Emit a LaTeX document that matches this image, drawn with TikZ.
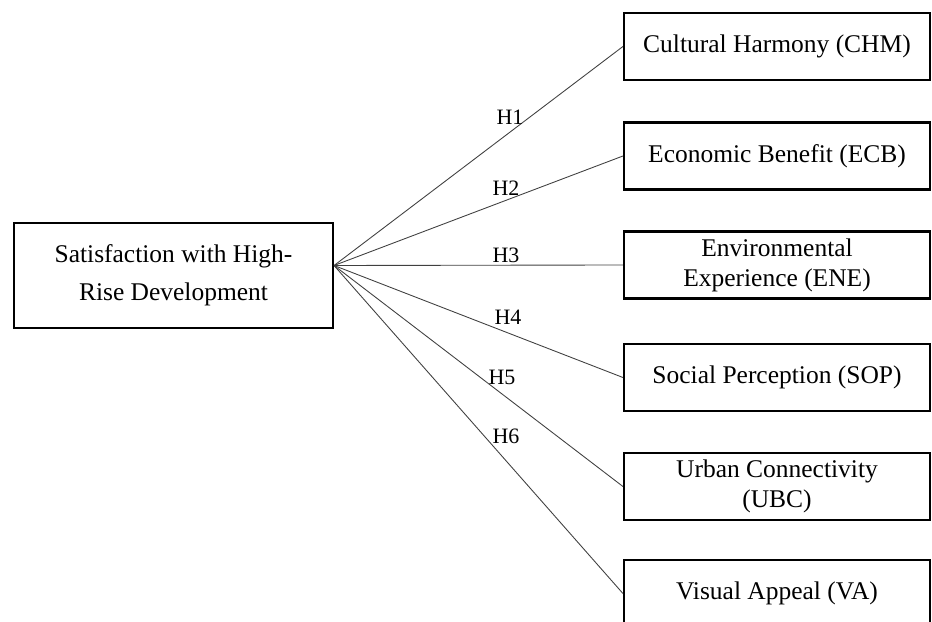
\documentclass[tikz,border=0pt]{standalone}
\usepackage{fontspec}
\setmainfont{Liberation Serif}
\usetikzlibrary{positioning}

\begin{document}
\begin{tikzpicture}[
  box/.style={draw, line width=1.2pt, align=center, inner sep=0pt,
    font=\fontsize{14.5}{17}\selectfont},
  factor/.style={box, minimum width=6.12cm, minimum height=1.34cm},
  hyp/.style={font=\fontsize{12.5}{15}\selectfont},
  link/.style={draw=black!75, line width=0.5pt}
]
\clip (0,0) rectangle (18.64,12.44);

% construct on the left
\node[box, minimum width=6.38cm, minimum height=2.1cm,
  font=\fontsize{14.5}{21.5}\selectfont] (sat) at (3.47,6.93)
  {Satisfaction with High-\\Rise Development};
\coordinate (hub) at ([yshift=0.2cm]sat.east);

% factors
\node[factor] (chm) at (15.54,11.51) {Cultural Harmony (CHM)};
\node[factor] (ecb) at (15.54,9.32) {Economic Benefit (ECB)};
\node[factor] (ene) at (15.54,7.14) {Environmental\\Experience (ENE)};
\node[factor] (sop) at (15.54,4.89) {Social Perception (SOP)};
\node[factor] (ubc) at (15.54,2.71) {Urban Connectivity\\(UBC)};
\node[factor] (va) at (15.54,0.57) {Visual Appeal (VA)};

% hypotheses
\foreach \f in {chm,ecb,ene,sop,ubc,va}
  \draw[link] (hub) -- (\f.west);

\node[hyp] (h1) at (10.20,10.10) {H1};
\node[hyp] (h2) at (10.12,8.68) {H2};
\node[hyp] (h3) at (10.12,7.34) {H3};
\node[hyp] (h4) at (10.16,6.10) {H4};
\node[hyp] (h5) at (10.04,4.90) {H5};
\node[hyp] (h6) at (10.12,3.72) {H6};

\end{tikzpicture}
\end{document}
